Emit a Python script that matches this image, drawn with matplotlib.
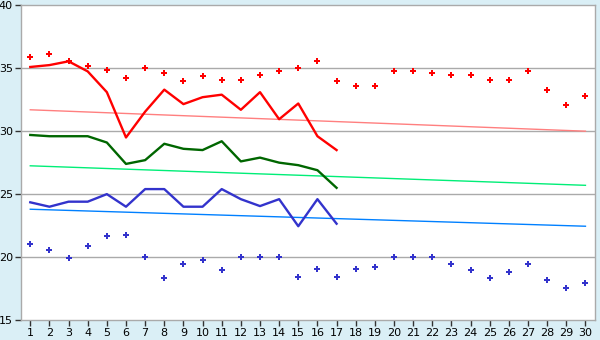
import numpy as np
import matplotlib
matplotlib.use('Agg')
import matplotlib.pyplot as plt

# Data
days = list(range(1, 31))
days_line = list(range(1, 18))

red_points = [35.9, 36.1, 35.6, 35.2, 34.9, 34.2, 35.0, 34.6, 34.0, 34.4,
              34.05, 34.1, 34.5, 34.8, 35.0, 35.6, 34.0, 33.6, 33.6, 34.8,
              34.8, 34.6, 34.45, 34.45, 34.05, 34.05, 34.75, 33.25, 32.05, 32.8]
blue_points = [21.0, 20.6, 19.9, 20.9, 21.65, 21.75, 20.0, 18.3, 19.45, 19.75,
               18.95, 20.0, 20.0, 20.0, 18.4, 19.05, 18.4, 19.05, 19.2, 20.0,
               20.0, 20.0, 19.45, 18.95, 18.3, 18.8, 19.45, 18.15, 17.55, 17.95]

red_line = [35.1, 35.25, 35.55, 34.75, 33.1, 29.5, 31.55, 33.3, 32.15, 32.7,
            32.9, 31.7, 33.1, 30.95, 32.2, 29.6, 28.5]
green_line = [29.7, 29.6, 29.6, 29.6, 29.1, 27.4, 27.7, 29.0, 28.6, 28.5,
              29.2, 27.6, 27.9, 27.5, 27.3, 26.9, 25.5]
blue_line = [24.35, 24.0, 24.4, 24.4, 25.0, 24.0, 25.4, 25.4, 24.0, 24.0,
             25.4, 24.6, 24.05, 24.6, 22.45, 24.6, 22.65]

trend_x = [1, 30]
red_trend = [31.7, 30.0]
green_trend = [27.25, 25.7]
blue_trend = [23.8, 22.45]

# Plot
bg = '#DAEFF6'
grid = '#AAAAAA'
fig = plt.figure(figsize=(6, 3.4), dpi=100, facecolor=bg)
ax = fig.add_axes([0.0345, 0.0588, 0.9572, 0.9256])
ax.set_facecolor('white')

for v in [20, 25, 30, 35]:
    ax.axhline(v, color=grid, lw=1, zorder=1)

ax.plot(trend_x, red_trend, color='#FF7F7F', lw=1, zorder=2)
ax.plot(trend_x, green_trend, color='#00EE77', lw=1, zorder=2)
ax.plot(trend_x, blue_trend, color='#0080FF', lw=1, zorder=2)

ax.plot(days_line, red_line, color='#FF0000', lw=1.7, zorder=3)
ax.plot(days_line, green_line, color='#006600', lw=1.7, zorder=3)
ax.plot(days_line, blue_line, color='#3333CC', lw=1.7, zorder=3)

ax.plot(days, red_points, 'P', color='#FF0000', ms=5, mew=0, ls='none', zorder=4)
ax.plot(days, blue_points, 'P', color='#3333CC', ms=5, mew=0, ls='none', zorder=4)

ax.set_xlim(0.5, 30.5)
ax.set_ylim(15, 40)
ax.set_xticks(days)
ax.set_yticks([15, 20, 25, 30, 35, 40])
ax.tick_params(axis='both', colors='#333333', labelcolor='black', labelsize=8,
               length=4, width=1, pad=1.5)
for s in ax.spines.values():
    s.set_color(grid)
    s.set_linewidth(1)

fig.savefig('out.png', dpi=100, facecolor=bg)
